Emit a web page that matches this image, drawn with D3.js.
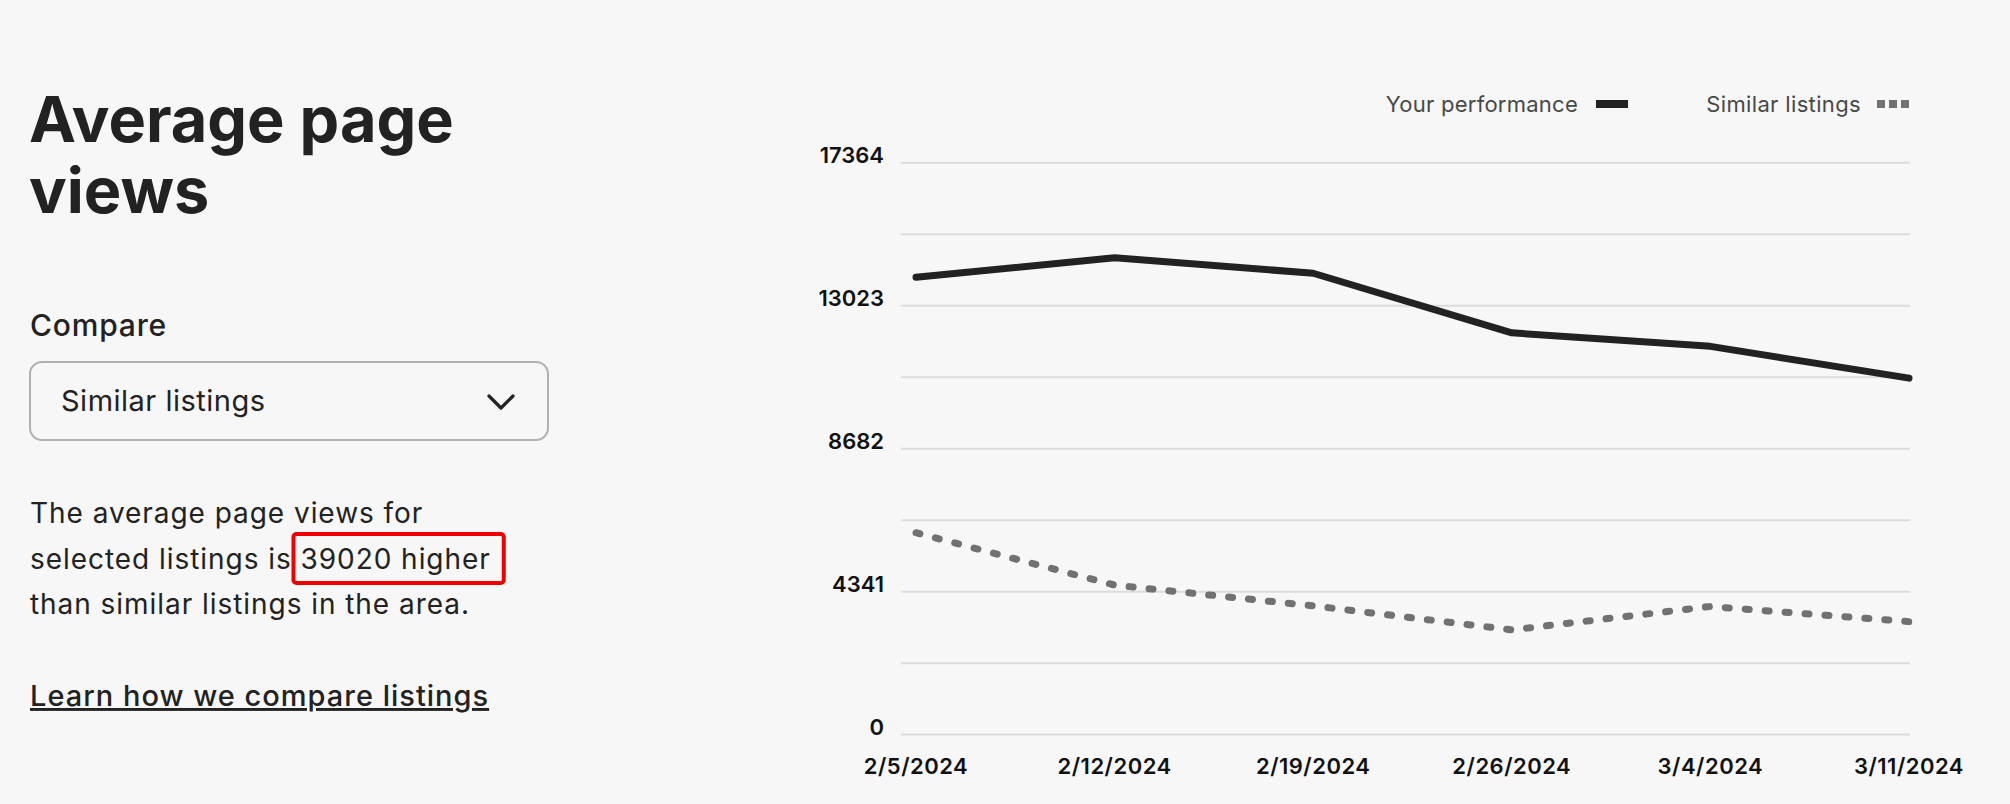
<!DOCTYPE html>
<html><head><meta charset="utf-8">
<script src="https://cdn.jsdelivr.net/npm/d3@7"></script>
<style>
html,body{margin:0;padding:0;background:#f7f7f7;}
svg{display:block;}
text{font-family:Inter,"Noto Sans",sans-serif;}
</style></head><body>
<svg id="chart" width="2010" height="804"></svg>
<script>
// ---- data ----
const dates = ["2/5/2024","2/12/2024","2/19/2024","2/26/2024","3/4/2024","3/11/2024"];
const yourPerformance = [13890, 14480, 14010, 12200, 11790, 10825];
const similarListings = [6130, 4540, 3910, 3180, 3890, 3430];
const yTickLabels = [0, 4341, 8682, 13023, 17364];
const yMax = 17364;
const gridCount = 8;
const seriesNames = ["Your performance", "Similar listings"];

const svg = d3.select("#chart");
svg.append("rect").attr("width",2010).attr("height",804).attr("fill","#f7f7f7");

// ---- left panel ----
const left = svg.append("g");
left.append("text").attr("x",29).attr("y",142).attr("font-size",63).attr("font-weight",700)
  .attr("fill","#222").text("Average page");
left.append("text").attr("x",29).attr("y",213).attr("font-size",63).attr("font-weight",700)
  .attr("fill","#222").text("views");
left.append("text").attr("x",30).attr("y",336).attr("font-size",30).attr("font-weight",500)
  .attr("letter-spacing",0.8).attr("fill","#222").text("Compare");
left.append("rect").attr("x",30).attr("y",362).attr("width",518).attr("height",78)
  .attr("rx",12).attr("fill","none").attr("stroke","#b0b0b0").attr("stroke-width",2);
left.append("text").attr("x",61).attr("y",411).attr("font-size",29).attr("font-weight",400)
  .attr("letter-spacing",0.5).attr("fill","#222").text("Similar listings");
left.append("path").attr("d","M489,396 L501,408 L513,396").attr("fill","none")
  .attr("stroke","#222").attr("stroke-width",3.2).attr("stroke-linecap","round").attr("stroke-linejoin","round");

const paraStyle = t => t.attr("x",30).attr("font-size",28).attr("letter-spacing",0.95).attr("fill","#222");
left.append("text").attr("y",523).call(paraStyle).text("The average page views for");
const l2 = left.append("text").attr("y",569).call(paraStyle);
l2.append("tspan").text("selected listings is ");
const hi = l2.append("tspan").text("39020 higher");
left.append("text").attr("y",614).call(paraStyle).text("than similar listings in the area.");

// red highlight box around "39020 higher"
const node = l2.node();
const pre = "selected listings is ".length;
const startX = node.getStartPositionOfChar(pre).x;
const endX = node.getEndPositionOfChar(pre + "39020 higher".length - 1).x;
left.append("rect").attr("x",startX - 7).attr("y",534).attr("width",endX - startX + 20).attr("height",49)
  .attr("rx",3).attr("fill","none").attr("stroke","#ee0000").attr("stroke-width",4);

left.append("text").attr("x",30).attr("y",706).attr("font-size",29).attr("font-weight",500)
  .attr("letter-spacing",1.0).attr("fill","#222").attr("text-decoration","underline")
  .text("Learn how we compare listings");

// ---- chart ----
const x = d3.scalePoint().domain(dates).range([916, 1909]);
const y = d3.scaleLinear().domain([0, yMax]).range([734.6, 162.8]);

const grid = d3.range(0, gridCount + 1).map(i => yMax * i / gridCount);
svg.append("g").selectAll("line").data(grid).join("line")
  .attr("x1",901).attr("x2",1910).attr("y1",d=>y(d)).attr("y2",d=>y(d))
  .attr("stroke","#dcdcdc").attr("stroke-width",2);

svg.append("g").selectAll("text").data(yTickLabels).join("text")
  .attr("x",884).attr("y",d=>y(d)).attr("text-anchor","end")
  .attr("font-size",22).attr("font-weight",600).attr("fill","#111").text(d=>d);

svg.append("g").selectAll("text").data(dates).join("text")
  .attr("x",d=>x(d)).attr("y",774).attr("text-anchor","middle")
  .attr("font-size",22).attr("font-weight",600).attr("letter-spacing",0.5).attr("fill","#111").text(d=>d);

const line = d3.line().x((d,i)=>x(dates[i])).y(d=>y(d));
svg.append("path").datum(similarListings).attr("d",line).attr("fill","none")
  .attr("stroke","#717171").attr("stroke-width",7).attr("stroke-linecap","round")
  .attr("stroke-dasharray","4 16");
svg.append("path").datum(yourPerformance).attr("d",line).attr("fill","none")
  .attr("stroke","#222").attr("stroke-width",7).attr("stroke-linecap","round").attr("stroke-linejoin","round");

// ---- legend ----
const lg = svg.append("g");
lg.append("text").attr("x",1578).attr("y",112).attr("text-anchor","end").attr("font-size",22)
  .attr("letter-spacing",0.25).attr("fill","#484848").text(seriesNames[0]);
lg.append("rect").attr("x",1596).attr("y",100).attr("width",32).attr("height",8).attr("fill","#222");
lg.append("text").attr("x",1861).attr("y",112).attr("text-anchor","end").attr("font-size",22)
  .attr("letter-spacing",0.35).attr("fill","#484848").text(seriesNames[1]);
lg.selectAll("rect.dot").data([0,1,2]).join("rect").attr("class","dot")
  .attr("x",d=>1877 + d*12).attr("y",100).attr("width",8).attr("height",8).attr("fill","#717171");
</script>
</body></html>
